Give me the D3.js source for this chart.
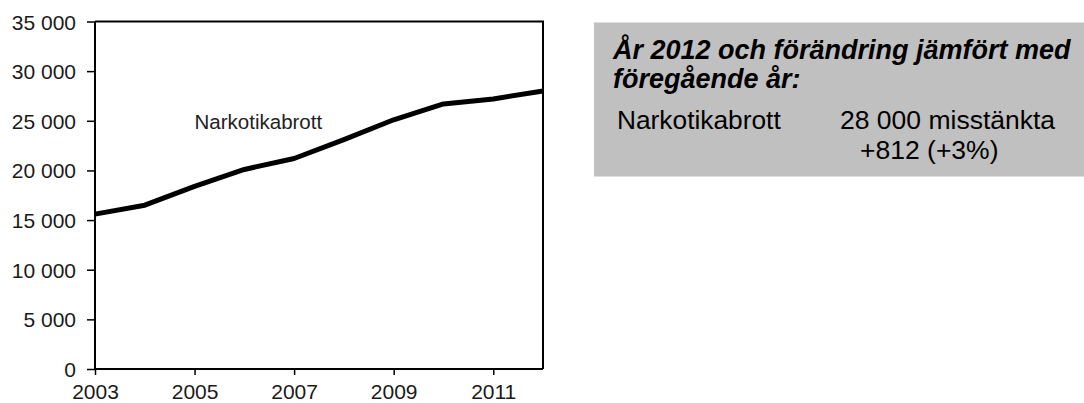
<!DOCTYPE html>
<html>
<head>
<meta charset="utf-8">
<script src="https://cdn.jsdelivr.net/npm/d3@7"></script>
<style>
  body { margin: 0; background: #fff; }
  svg { display: block; font-family: "Liberation Sans", Arial, sans-serif; }
</style>
</head>
<body>
<svg id="chart"></svg>
<script>
// Data
const years = [2003, 2004, 2005, 2006, 2007, 2008, 2009, 2010, 2011, 2012];
const suspects = [15600, 16500, 18400, 20100, 21200, 23100, 25100, 26700, 27200, 28000];
const yTicks = [0, 5000, 10000, 15000, 20000, 25000, 30000, 35000];
const xTicks = [2003, 2005, 2007, 2009, 2011];
const seriesLabel = "Narkotikabrott";
const labelAt = [2005, 24200]; // where the series name sits

const boxTitle = ["År 2012 och förändring jämfört med", "föregående år:"];
const boxRow = ["Narkotikabrott", "28 000 misstänkta", "+812 (+3%)"];

const width = 1084;
const height = 403;
const margin = { top: 21.5, right: 541, bottom: 34, left: 95 };
const plotW = width - margin.left - margin.right;
const plotH = height - margin.top - margin.bottom;

const svg = d3.select("#chart").attr("width", width).attr("height", height);

// space as thousands separator, like the original
const sv = d3.formatLocale({ decimal: ",", thousands: "\u00a0", grouping: [3], currency: ["", " kr"] });
const fmt = sv.format(",");

const xScale = d3.scaleLinear().domain([2003, 2012]).range([0, plotW]);
const yScale = d3.scaleLinear().domain([0, 35000]).range([plotH, 0]);

const graph = svg.append("g").attr("transform", `translate(${margin.left},${margin.top})`);

// frame top + right
graph.append("path")
  .attr("d", `M0,0H${plotW}V${plotH}`)
  .attr("fill", "none")
  .attr("stroke", "#000")
  .attr("stroke-width", 2);

// Y axis
const yAxis = graph.append("g")
  .call(d3.axisLeft(yScale).tickValues(yTicks).tickSize(8).tickPadding(11).tickFormat(fmt));
yAxis.select(".domain").attr("stroke-width", 2).attr("d", `M0,${plotH}V0`);
yAxis.selectAll(".tick line").attr("stroke-width", 1.5);
yAxis.selectAll("text").style("font-size", "21px").attr("fill", "#1a1a1a").attr("dy", "0.36em");

// X axis (labels nudged up a little so they are not clipped at the bottom)
const xAxis = graph.append("g")
  .attr("transform", `translate(0,${plotH})`)
  .call(d3.axisBottom(xScale).tickValues(xTicks).tickSize(6).tickPadding(9).tickFormat(d3.format("d")));
xAxis.select(".domain").attr("stroke-width", 2).attr("d", `M0,0H${plotW}`);
xAxis.selectAll(".tick line").attr("stroke-width", 1.5);
xAxis.selectAll("text").style("font-size", "21px").attr("fill", "#1a1a1a");
svg.selectAll(".domain, .tick line").attr("stroke", "#000");

// the series
const line = d3.line()
  .x((d, i) => xScale(years[i]))
  .y((d) => yScale(d));

graph.append("path")
  .datum(suspects)
  .attr("fill", "none")
  .attr("stroke", "#000")
  .attr("stroke-width", 5)
  .attr("stroke-linejoin", "round")
  .attr("d", line);

graph.append("text")
  .attr("x", xScale(labelAt[0]))
  .attr("y", yScale(labelAt[1]))
  .style("font-size", "20.5px")
  .attr("fill", "#222")
  .text(seriesLabel);

// grey fact box
const box = svg.append("g");
box.append("rect")
  .attr("x", 594)
  .attr("y", 22.5)
  .attr("width", width - 594)
  .attr("height", 154)
  .attr("fill", "#c0c0c0");

box.selectAll("text.title")
  .data(boxTitle)
  .join("text")
  .attr("class", "title")
  .attr("x", 613)
  .attr("y", (d, i) => 59 + i * 29)
  .style("font-size", "27px")
  .style("font-weight", "bold")
  .style("font-style", "italic")
  .attr("fill", "#000")
  .text((d) => d);

box.append("text")
  .attr("x", 617)
  .attr("y", 128.5)
  .style("font-size", "26.3px")
  .attr("fill", "#000")
  .text(boxRow[0]);

box.append("text")
  .attr("x", 840)
  .attr("y", 128.5)
  .style("font-size", "26.5px")
  .attr("fill", "#000")
  .text(boxRow[1]);

box.append("text")
  .attr("x", 860)
  .attr("y", 158.5)
  .style("font-size", "26.5px")
  .attr("fill", "#000")
  .text(boxRow[2]);
</script>
</body>
</html>
